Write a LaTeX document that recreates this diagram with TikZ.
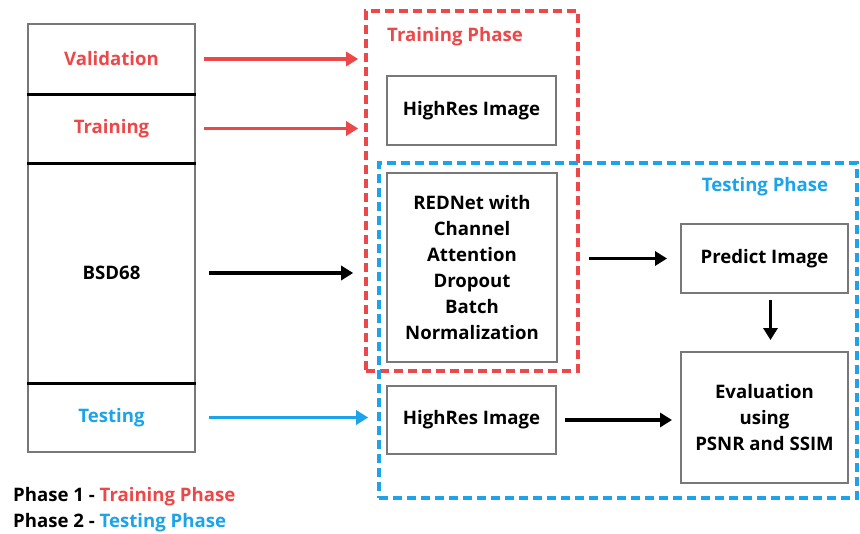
\documentclass[tikz,border=0pt]{standalone}
\usepackage{fontspec}
\setmainfont{Open Sans}
\usetikzlibrary{arrows.meta}
\definecolor{phasered}{RGB}{236,72,74}
\definecolor{phaseblue}{RGB}{29,163,234}
\definecolor{boxgray}{RGB}{120,120,120}

\tikzset{
  lbl/.style={font=\bfseries\fontsize{18.6}{26}\selectfont, align=center, inner sep=0pt},
  cell/.style={lbl, draw=boxgray, line width=1.6pt, minimum width=167pt},
  block/.style={lbl, draw=boxgray, line width=1.9pt},
  divider/.style={black, line width=3pt},
  flow/.style={line width=3.8pt, -{Triangle[length=12pt,width=14pt]}},
  phasebox/.style={line width=3.6pt, dash pattern=on 9pt off 5pt, inner sep=0pt},
}

\begin{document}
\begin{tikzpicture}[x=1pt, y=-1pt]
    \useasboundingbox (0,0) rectangle (860,534);

    % dataset column
    \node[cell, minimum height=70pt, text=phasered] (val) at (111.5,59) {Validation};
    \node[cell, minimum height=69pt, text=phasered] (train) at (111.5,128.5) {Training};
    \node[cell, minimum height=220pt] (bsd) at (111.5,273) {BSD68};
    \node[cell, minimum height=69pt, text=phaseblue] (test) at (111.5,417.5) {Testing};
    \draw[divider] (val.south west) -- (val.south east);
    \draw[divider] (train.south west) -- (train.south east);
    \draw[divider] (bsd.south west) -- (bsd.south east);

    % phase frames
    \node[phasebox, draw=phasered, minimum width=212pt, minimum height=360pt] (trainbox) at (472,191) {};
    \node[phasebox, draw=phaseblue, minimum width=478pt, minimum height=335pt] (testbox) at (618,330.5) {};
    \node[lbl, text=phasered] (trainlbl) at (455,37) {Training Phase};
    \node[lbl, text=phaseblue] (testlbl) at (765,187) {Testing Phase};

    % blocks
    \node[block, minimum width=169pt, minimum height=69pt] (hrtrain) at (471.5,110.5) {HighRes Image};
    \node[block, minimum width=170pt, minimum height=189pt] (rednet) at (472,267.5)
        {REDNet with\\Channel\\Attention\\Dropout\\Batch\\Normalization};
    \node[block, minimum width=167pt, minimum height=69pt] (predict) at (764.5,258.5) {Predict Image};
    \node[block, minimum width=167pt, minimum height=131pt] (eval) at (764.5,417.5)
        {Evaluation\\using\\PSNR and SSIM};
    \node[block, minimum width=169pt, minimum height=68pt] (hrtest) at (471.5,420) {HighRes Image};

    % connectors
    \draw[flow, phasered, shorten <=8pt, shorten >=6pt] (val.east) -- (val -| trainbox.west);
    \draw[flow, phasered, shorten <=8pt, shorten >=6pt] (train.east) -- (train -| trainbox.west);
    \draw[flow, black, shorten <=13pt, shorten >=11pt] (bsd.east) -- (bsd -| trainbox.west);
    \draw[flow, phaseblue, shorten <=13pt, shorten >=9pt] (test.east) -- (test -| testbox.west);
    \draw[flow, black, shorten <=31pt, shorten >=13pt] (rednet.east |- predict) -- (predict.west);
    \draw[flow, black, shorten <=6pt, shorten >=11pt] ([xshift=6pt]predict.south) -- ([xshift=6pt]eval.north);
    \draw[flow, black, shorten <=8pt, shorten >=8pt] (hrtest.east) -- (hrtest -| eval.west);

    % legend
    \node[lbl, anchor=west] (leg1) at (13,497) {Phase 1 - \textcolor{phasered}{Training Phase}};
    \node[lbl, anchor=west] (leg2) at (13,523) {Phase 2 - \textcolor{phaseblue}{Testing Phase}};
\end{tikzpicture}
\end{document}
